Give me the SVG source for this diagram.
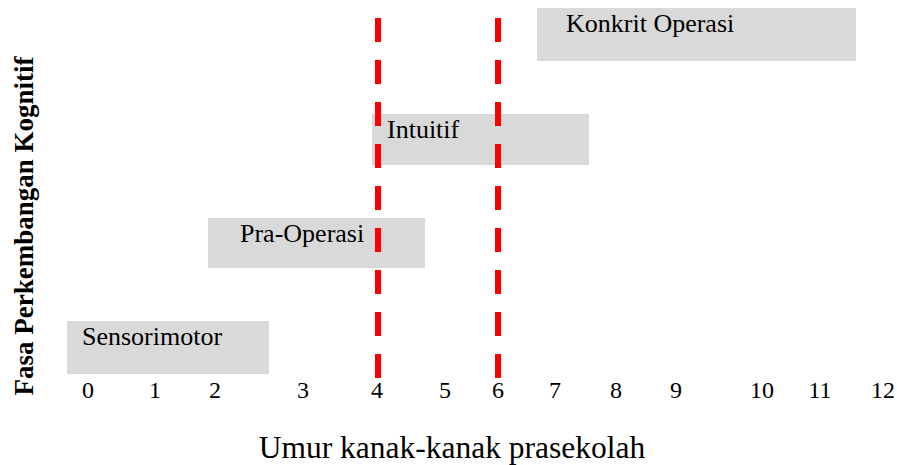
<svg xmlns="http://www.w3.org/2000/svg" width="897" height="465" viewBox="0 0 897 465">
<style>
.box{fill:#d9d9d9}
.lbl{font-family:"Liberation Serif","Times New Roman",serif;font-size:26px;fill:#000}
.num{font-family:"Liberation Serif","Times New Roman",serif;font-size:24px;fill:#000;text-anchor:middle}
.ttl{font-family:"Liberation Serif","Times New Roman",serif;fill:#000}
.dash{stroke:#ff0000;stroke-width:6;stroke-dasharray:24 18;fill:none}
</style>
<rect width="897" height="465" fill="#fff"/>
<g id="sensorimotor">
<rect class="box" x="67" y="321" width="202" height="53"/>
<text class="lbl" x="82" y="345">Sensorimotor</text>
</g>
<g id="pra-operasi">
<rect class="box" x="208" y="218" width="217" height="50"/>
<text class="lbl" x="240" y="242">Pra-Operasi</text>
</g>
<g id="intuitif">
<rect class="box" x="372" y="114" width="217" height="51"/>
<text class="lbl" x="387" y="138">Intuitif</text>
</g>
<g id="konkrit-operasi">
<rect class="box" x="537" y="8" width="319" height="53"/>
<text class="lbl" x="566" y="32">Konkrit Operasi</text>
</g>
<g id="connectors">
<line class="dash" x1="378" y1="18" x2="378" y2="378"/>
<line class="dash" x1="498" y1="18" x2="498" y2="378"/>
</g>
<g id="axis-x">
<text class="num" x="88" y="398">0</text>
<text class="num" x="155" y="398">1</text>
<text class="num" x="215" y="398">2</text>
<text class="num" x="303" y="398">3</text>
<text class="num" x="377" y="398">4</text>
<text class="num" x="445" y="398">5</text>
<text class="num" x="498" y="398">6</text>
<text class="num" x="555" y="398">7</text>
<text class="num" x="616" y="398">8</text>
<text class="num" x="676" y="398">9</text>
<text class="num" x="762" y="398">10</text>
<text class="num" x="820" y="398">11</text>
<text class="num" x="883" y="398">12</text>
<text class="ttl" x="452" y="458" font-size="31.5" text-anchor="middle">Umur kanak-kanak prasekolah</text>
</g>
<g id="axis-y">
<text class="ttl" transform="translate(33,226) rotate(-90)" font-size="27" font-weight="bold" text-anchor="middle">Fasa Perkembangan Kognitif</text>
</g>
</svg>
